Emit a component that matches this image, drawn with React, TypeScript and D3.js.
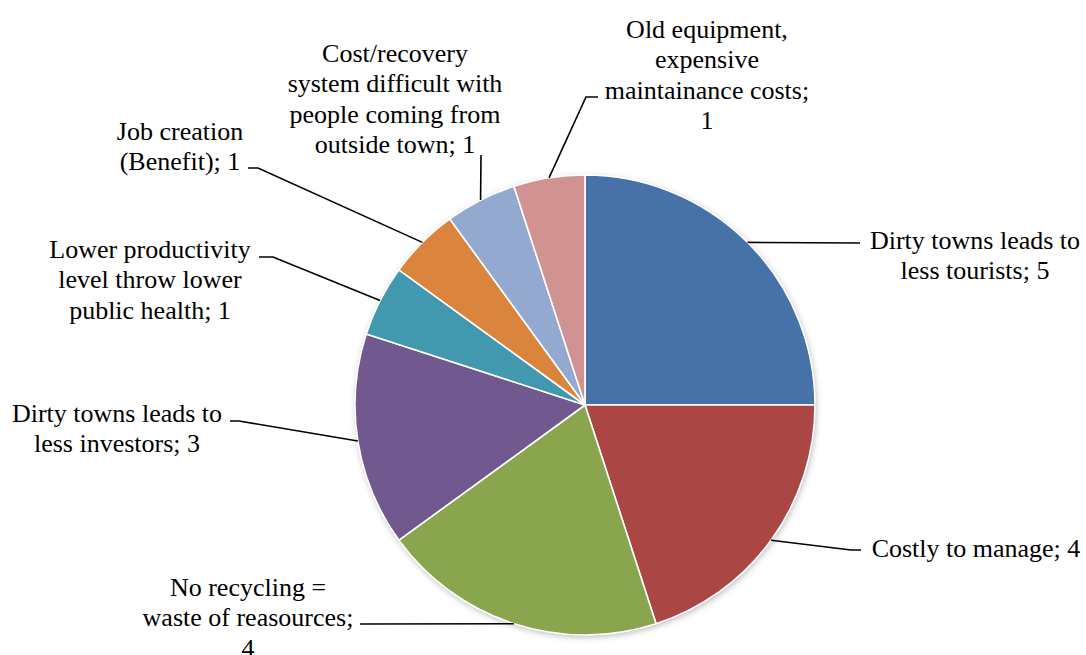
import React from "react";
import * as d3 from "d3";

const categories = [
  "Dirty towns leads to|less tourists",
  "Costly to manage",
  "No recycling =|waste of reasources",
  "Dirty towns leads to|less investors",
  "Lower productivity|level throw lower|public health",
  "Job creation|(Benefit)",
  "Cost/recovery|system difficult with|people coming from|outside town",
  "Old equipment,|expensive|maintainance costs",
];
const values = [5, 4, 4, 3, 1, 1, 1, 1];
// whether the value goes on its own line
const valueOnOwnLine = [false, false, true, false, false, false, false, true];
const colors = ["#4672A8", "#AA4744", "#89A54E", "#71588F", "#4198AF", "#DB843D", "#93A9CF", "#D19392"];

// label layout: text centre x, first line centre y, leader elbow points
const labelLayout = [
  { cx: 975, y0: 240, pts: [[860, 243]] },
  { cx: 976, y0: 548, pts: [[851, 550], [861, 550]] },
  { cx: 248, y0: 587, pts: [[360, 624]] },
  { cx: 117, y0: 413, pts: [[239, 421], [230, 421]] },
  { cx: 150, y0: 249, pts: [[273, 257], [259, 257]] },
  { cx: 180, y0: 131, pts: [[258, 168], [248, 168]] },
  { cx: 395, y0: 53, pts: [[481, 155]] },
  { cx: 707, y0: 29, pts: [[586, 97], [598, 97]] },
];

const W = 1086;
const H = 655;
const CX = 585;
const CY = 405;
const R = 230;
const LINE = 30.5;
const FONT = "'Liberation Serif', Tinos, 'Times New Roman', Times, 'DejaVu Serif', serif";

export default function App() {
  const pie = d3.pie<number>().sort(null).value((d) => d).startAngle(0).endAngle(2 * Math.PI);
  const arcs = pie(values);
  const arc = d3.arc<d3.PieArcDatum<number>>().innerRadius(0).outerRadius(R);
  const line = d3.line();

  return (
    <div style={{ position: "fixed", left: 0, top: 0, width: W, height: H, background: "#fff" }}>
      <svg width={W} height={H} style={{ display: "block" }}>
        <defs>
          <filter id="sh" x="-20%" y="-20%" width="140%" height="140%">
            <feDropShadow dx="1" dy="2" stdDeviation="3" floodColor="#000" floodOpacity="0.28" />
          </filter>
        </defs>
        <g transform={`translate(${CX},${CY})`}>
          <circle r={R} fill="#fff" filter="url(#sh)" />
          {arcs.map((a, i) => (
            <path key={i} d={arc(a) || ""} fill={colors[i]} stroke="#fff" strokeWidth={1.6} strokeLinejoin="round" />
          ))}
        </g>
        {arcs.map((a, i) => {
          const mid = (a.startAngle + a.endAngle) / 2;
          const sx = CX + R * Math.sin(mid);
          const sy = CY - R * Math.cos(mid);
          const pts: [number, number][] = [[sx, sy], ...(labelLayout[i].pts as [number, number][])];
          return (
            <path key={"l" + i} d={line(pts) || ""} fill="none" stroke="#000" strokeWidth={1.6} />
          );
        })}
        {categories.map((c, i) => {
          const parts = c.split("|");
          let lines: string[];
          if (valueOnOwnLine[i]) {
            lines = [...parts.slice(0, -1), parts[parts.length - 1] + ";", String(values[i])];
          } else {
            lines = [...parts.slice(0, -1), parts[parts.length - 1] + "; " + values[i]];
          }
          const L = labelLayout[i];
          return (
            <text
              key={"t" + i}
              textAnchor="middle"
              style={{ fontFamily: FONT, fontSize: "26px" }}
              fill="#000"
            >
              {lines.map((s, j) => (
                <tspan key={j} x={L.cx} y={L.y0 + j * LINE} dominantBaseline="central">
                  {s}
                </tspan>
              ))}
            </text>
          );
        })}
      </svg>
    </div>
  );
}
